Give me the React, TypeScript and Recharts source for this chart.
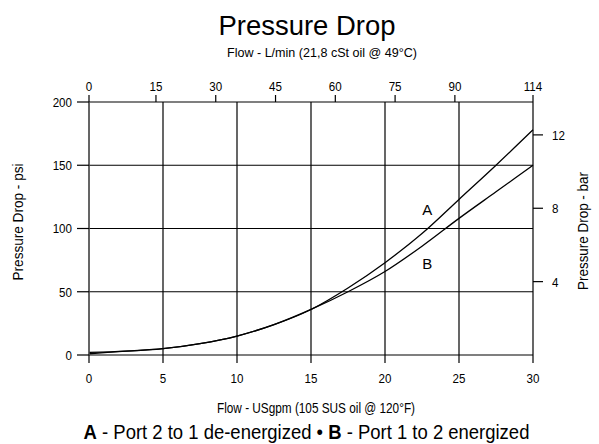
import React from 'react';
import { LineChart, Line, XAxis, YAxis, CartesianGrid, ReferenceDot } from 'recharts';

// Flow in US gallons per minute (bottom axis)
const flowGpm = [0, 2.5, 5, 7.5, 10, 12.5, 15, 17.5, 20, 22.5, 25, 27.5, 30];
// Curve A - Port 2 to 1 de-energized (psi)
const portA = [2, 3, 5, 9, 15, 24, 36, 53, 73, 96, 123, 150, 178];
// Curve B - Port 1 to 2 energized (psi)
const portB = [1, 3, 5, 9, 15, 24, 36, 50, 66, 86, 108, 129, 150];

const gpmTicks = [0, 5, 10, 15, 20, 25, 30];
const lpmTicks = [0, 15, 30, 45, 60, 75, 90, 114];
const psiTicks = [0, 50, 100, 150, 200];
const barTicks = [4, 8, 12];

const PSI_PER_BAR = 14.5;
const PSI_MAX = 200;
const GPM_MAX = 30;
const LPM_PER_GPM = 3.785;
// The printed L/min scale runs slightly offset from the gpm grid; its end
// ticks sit on the plot edges and carry the labels 0 and 114.
const LPM_AXIS_START = -1.8;
const LPM_AXIS_END = 109.6;
const lpmTickValues = [LPM_AXIS_START, ...lpmTicks.slice(1, -1), LPM_AXIS_END];

const curveLabels = [
  { name: 'A', gpm: 22.85, psi: 115 },
  { name: 'B', gpm: 22.85, psi: 72 },
];

const data = flowGpm.map((g, i) => ({ gpm: g, lpm: g * LPM_PER_GPM, a: portA[i], b: portB[i] }));

const FONT = '"Liberation Sans", Arial, sans-serif';
const SQUEEZE = 0.86;
const TICK_FONT = 13.5;

function makeTick(dy: string, labels?: (number | string)[]) {
  return function Tick(props: any) {
    const { x, y, payload, textAnchor, index } = props;
    const text = labels ? labels[index] : payload.value;
    return (
      <g transform={`translate(${x},${y})`}>
        <text
          transform={`scale(${SQUEEZE},1)`}
          textAnchor={textAnchor}
          dy={dy}
          fill="#000"
          fontSize={TICK_FONT}
          fontFamily={FONT}
        >
          {text}
        </text>
      </g>
    );
  };
}

const lineStyle = { stroke: '#000', strokeWidth: 1.2 };

type Caption = {
  text: string;
  x: number;
  y: number;
  size: number;
  length: number;
  rotate?: boolean;
};

const captions: Caption[] = [
  { text: 'Pressure Drop', x: 307, y: 35, size: 28, length: 177 },
  { text: 'Flow - L/min (21,8 cSt oil @ 49°C)', x: 322, y: 57, size: 13.5, length: 190 },
  { text: 'Flow - USgpm (105 SUS oil @ 120°F)', x: 316, y: 413, size: 14, length: 198 },
  { text: 'Pressure Drop - psi', x: 23, y: 222, size: 14, length: 117, rotate: true },
  { text: 'Pressure Drop - bar', x: 588, y: 231, size: 14, length: 118, rotate: true },
];

export default function App() {
  return (
    <div style={{ position: 'absolute', left: 0, top: 0, width: 599, height: 444, background: '#fff' }}>
      <LineChart
        width={599}
        height={444}
        data={data}
        margin={{ top: 72, right: 26, bottom: 59, left: 39 }}
      >
        <CartesianGrid xAxisId="gpm" yAxisId="psi" stroke="#000" strokeWidth={1.2} />
        <XAxis
          xAxisId="gpm"
          dataKey="gpm"
          type="number"
          domain={[0, GPM_MAX]}
          ticks={gpmTicks}
          orientation="bottom"
          height={30}
          tickSize={8}
          tickMargin={10}
          tick={makeTick('0.71em')}
          axisLine={false}
          tickLine={lineStyle}
          interval={0}
        />
        <XAxis
          xAxisId="lpm"
          dataKey="lpm"
          type="number"
          domain={[LPM_AXIS_START, LPM_AXIS_END]}
          ticks={lpmTickValues}
          orientation="top"
          height={30}
          tickSize={7}
          tickMargin={4}
          tick={makeTick('0', lpmTicks)}
          axisLine={false}
          tickLine={lineStyle}
          interval={0}
          allowDataOverflow
        />
        <YAxis
          yAxisId="psi"
          type="number"
          domain={[0, PSI_MAX]}
          ticks={psiTicks}
          orientation="left"
          width={50}
          tickSize={12}
          tickMargin={5}
          tick={makeTick('0.36em')}
          axisLine={{ stroke: '#666', strokeWidth: 1.2 }}
          tickLine={lineStyle}
          interval={0}
        />
        <YAxis
          yAxisId="bar"
          type="number"
          domain={[0, PSI_MAX / PSI_PER_BAR]}
          ticks={barTicks}
          orientation="right"
          width={40}
          tickSize={10}
          tickMargin={9}
          tick={makeTick('0.36em')}
          axisLine={false}
          tickLine={lineStyle}
          interval={0}
          allowDataOverflow
        />
        <Line
          xAxisId="gpm"
          yAxisId="psi"
          type="monotone"
          dataKey="a"
          stroke="#000"
          strokeWidth={1.3}
          dot={false}
          isAnimationActive={false}
        />
        <Line
          xAxisId="gpm"
          yAxisId="psi"
          type="monotone"
          dataKey="b"
          stroke="#000"
          strokeWidth={1.3}
          dot={false}
          isAnimationActive={false}
        />
        {curveLabels.map((c) => (
          <ReferenceDot
            key={c.name}
            xAxisId="gpm"
            yAxisId="psi"
            x={c.gpm}
            y={c.psi}
            r={0}
            stroke="none"
            label={{ value: c.name, position: 'center', fill: '#000', fontSize: 15, fontFamily: FONT }}
          />
        ))}
      </LineChart>

      <svg
        width={599}
        height={444}
        style={{ position: 'absolute', left: 0, top: 0, pointerEvents: 'none' }}
      >
        {captions.map((c, i) => (
          <text
            key={i}
            x={c.x}
            y={c.y}
            transform={c.rotate ? `rotate(-90 ${c.x} ${c.y})` : undefined}
            textAnchor="middle"
            fontSize={c.size}
            fontFamily={FONT}
            fill="#000"
            textLength={c.length}
            lengthAdjust="spacingAndGlyphs"
          >
            {c.text}
          </text>
        ))}
        <g transform="translate(306.5,439) scale(0.88,1)">
          <text x={0} y={0} textAnchor="middle" fontSize={21} fontFamily={FONT} fill="#000">
            <tspan fontWeight="bold">A</tspan>
            <tspan> - Port 2 to 1 de-energized • </tspan>
            <tspan fontWeight="bold">B</tspan>
            <tspan> - Port 1 to 2 energized</tspan>
          </text>
        </g>
      </svg>
    </div>
  );
}
